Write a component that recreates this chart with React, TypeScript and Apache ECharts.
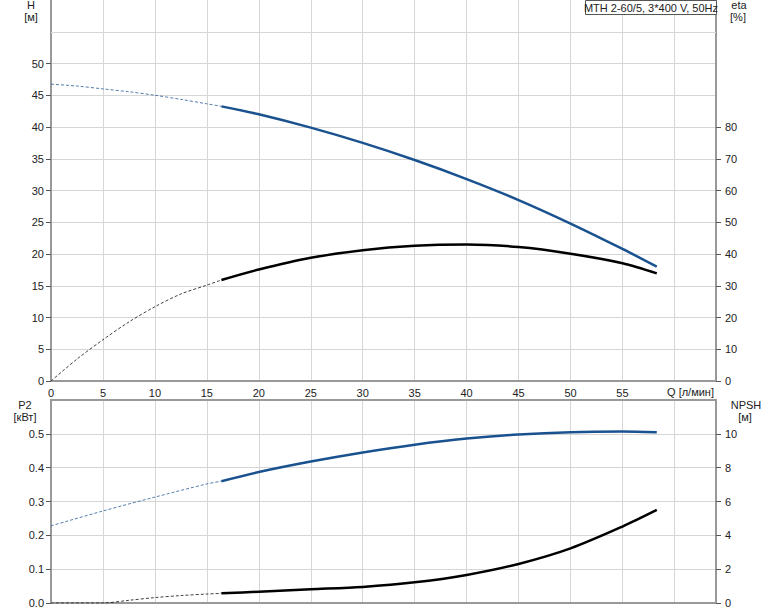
import React, { useEffect, useRef } from "react";
import * as echarts from "echarts";

// ---- data ----
const qDash = [0, 2.5, 5, 7.5, 10, 12.5, 15, 16.4];
const hDash = [46.75, 46.45, 46.0, 45.55, 45.0, 44.35, 43.65, 43.25];
const etaDash = [0, 6.9, 13.0, 18.6, 23.4, 27.4, 30.2, 31.8];

const qSolid = [16.4, 20, 25, 30, 35, 40, 45, 50, 55, 58.3];
const hSolid = [43.25, 42.0, 39.9, 37.5, 34.8, 31.8, 28.5, 24.8, 20.8, 18.0];
const etaSolid = [31.8, 35.1, 38.8, 41.2, 42.6, 43.0, 42.2, 40.1, 37.1, 33.9];

const qPDash = [0, 5, 10, 15, 16.4];
const p2Dash = [0.228, 0.272, 0.313, 0.352, 0.36];
const qNDash = [0, 5, 7.5, 10, 12.5, 15, 16.4];
const npshDash = [0, 0, 0.16, 0.32, 0.44, 0.53, 0.57];

const qBottom = [16.4, 20, 25, 30, 35, 40, 45, 50, 55, 58.3];
const p2Solid = [0.36, 0.387, 0.418, 0.445, 0.468, 0.486, 0.498, 0.505, 0.507, 0.505];
const npshSolid = [0.57, 0.67, 0.81, 0.95, 1.22, 1.66, 2.31, 3.23, 4.52, 5.5];

const hTicks = [0, 5, 10, 15, 20, 25, 30, 35, 40, 45, 50];
const hExtraGrid = [55];
const etaTicks = [0, 10, 20, 30, 40, 50, 60, 70, 80];
const p2Ticks = [0, 0.1, 0.2, 0.3, 0.4, 0.5];
const npshTicks = [0, 2, 4, 6, 8, 10];
const qTicks = [0, 5, 10, 15, 20, 25, 30, 35, 40, 45, 50, 55];

const title = "MTH 2-60/5, 3*400 V, 50Hz";
const qName = "Q [л/мин]";

const BLUE = "#1a5290";
const BLACK = "#000000";
const FONT = "Liberation Sans, Arial, sans-serif";
const TXT = "#222";
const GRID = "#d6d6d6";
const AXIS = "#999";

const pairs = (xs: number[], ys: number[]) => xs.map((x, i) => [x, ys[i]]);

export default function App() {
  const ref = useRef<HTMLDivElement>(null);
  useEffect(() => {
    if (!ref.current) return;
    const chart = echarts.init(ref.current, null, { renderer: "svg" });
    const labelStyle = { color: TXT, fontSize: 11, fontFamily: FONT };
    const xBase = (gridIndex: number, showLabels: boolean) => ({
      type: "value",
      gridIndex,
      min: 0,
      max: 64,
      interval: 5,
      axisLine: { show: true, onZero: false, lineStyle: { color: AXIS, width: 2 } },
      axisTick: { show: false },
      axisLabel: {
        show: showLabels,
        ...labelStyle,
        margin: 6,
        customValues: qTicks,
      },
      splitLine: { show: true, lineStyle: { color: GRID, width: 1 } },
    });
    const yBase = (
      gridIndex: number,
      position: string,
      max: number,
      interval: number,
      ticks: number[],
      split: boolean,
      fmt?: (v: number) => string
    ) => ({
      type: "value",
      gridIndex,
      position,
      min: 0,
      max,
      interval,
      axisLine: { show: true, onZero: false, lineStyle: { color: AXIS, width: 2 } },
      axisTick: { show: true, length: 5, customValues: ticks, lineStyle: { color: "#555" } },
      axisLabel: {
        ...labelStyle,
        margin: position === "left" ? 7 : 9,
        customValues: ticks,
        formatter: fmt ? fmt : (v: number) => String(v),
      },
      splitLine: { show: split, lineStyle: { color: GRID, width: 1 } },
    });
    const dash = (color: string) => ({ color, width: 1, type: [3, 2], opacity: 0.75 });
    const solid = (color: string) => ({ color, width: 2.5 });
    const line = (
      name: string,
      x: number,
      y: number,
      data: number[][],
      ls: any,
      extra: any = {}
    ) => ({
      name,
      type: "line",
      xAxisIndex: x,
      yAxisIndex: y,
      data,
      smooth: 0.3,
      showSymbol: false,
      symbol: "none",
      lineStyle: ls,
      z: 5,
      ...extra,
    });
    const t = (text: string, x: number, y: number, align = "center") => ({
      type: "text",
      x,
      y,
      style: {
        text,
        fill: TXT,
        font: `11px ${FONT}`,
        textAlign: align,
        textVerticalAlign: "middle",
      },
      z: 10,
    });
    chart.setOption({
      animation: false,
      backgroundColor: "#fff",
      grid: [
        { left: 51, right: 58, top: 0, height: 381 },
        { left: 51, right: 58, top: 400, height: 203 },
      ],
      xAxis: [
        xBase(0, true),
        xBase(1, false),
        {
          type: "value",
          gridIndex: 1,
          position: "top",
          min: 0,
          max: 64,
          axisLine: { show: true, onZero: false, lineStyle: { color: AXIS, width: 2 } },
          axisTick: { show: false },
          axisLabel: { show: false },
          splitLine: { show: false },
        },
      ],
      yAxis: [
        yBase(0, "left", 60, 5, hTicks, true),
        yBase(0, "right", 120, 10, etaTicks, false),
        yBase(1, "left", 0.6, 0.1, p2Ticks, true, (v: number) => v.toFixed(1)),
        yBase(1, "right", 12, 2, npshTicks, false),
      ],
      series: [
        line("H dash", 0, 0, pairs(qDash, hDash), dash(BLUE), {
          markLine: {
            silent: true,
            symbol: "none",
            label: { show: false },
            lineStyle: { color: GRID, width: 1, type: "solid", opacity: 1 },
            data: hExtraGrid.map((v) => ({ yAxis: v })),
            z: 1,
          },
        }),
        line("H", 0, 0, pairs(qSolid, hSolid), solid(BLUE)),
        line("eta dash", 0, 1, pairs(qDash, etaDash), dash(BLACK)),
        line("eta", 0, 1, pairs(qSolid, etaSolid), solid(BLACK)),
        line("P2 dash", 1, 2, pairs(qPDash, p2Dash), dash(BLUE)),
        line("P2", 1, 2, pairs(qBottom, p2Solid), solid(BLUE)),
        line("NPSH dash", 1, 3, pairs(qNDash, npshDash), dash(BLACK)),
        line("NPSH", 1, 3, pairs(qBottom, npshSolid), solid(BLACK)),
      ],
      graphic: [
        t("H", 31, 5),
        t("[м]", 31, 17),
        t("eta", 739, 5),
        t("[%]", 738, 17),
        t("P2", 25, 405),
        t("[кВт]", 25, 417),
        t("NPSH", 746, 405),
        t("[м]", 745, 417),
        t(qName, 714, 392, "right"),
        {
          type: "rect",
          shape: { x: 585.5, y: 0.5, width: 131, height: 14 },
          style: { fill: "#fff", stroke: "#555", lineWidth: 1 },
          z: 9,
        },
        t(title, 651, 8),
      ],
    });
    return () => chart.dispose();
  }, []);
  return (
    <div
      ref={ref}
      style={{ position: "absolute", left: 0, top: 0, width: 774, height: 611 }}
    />
  );
}
